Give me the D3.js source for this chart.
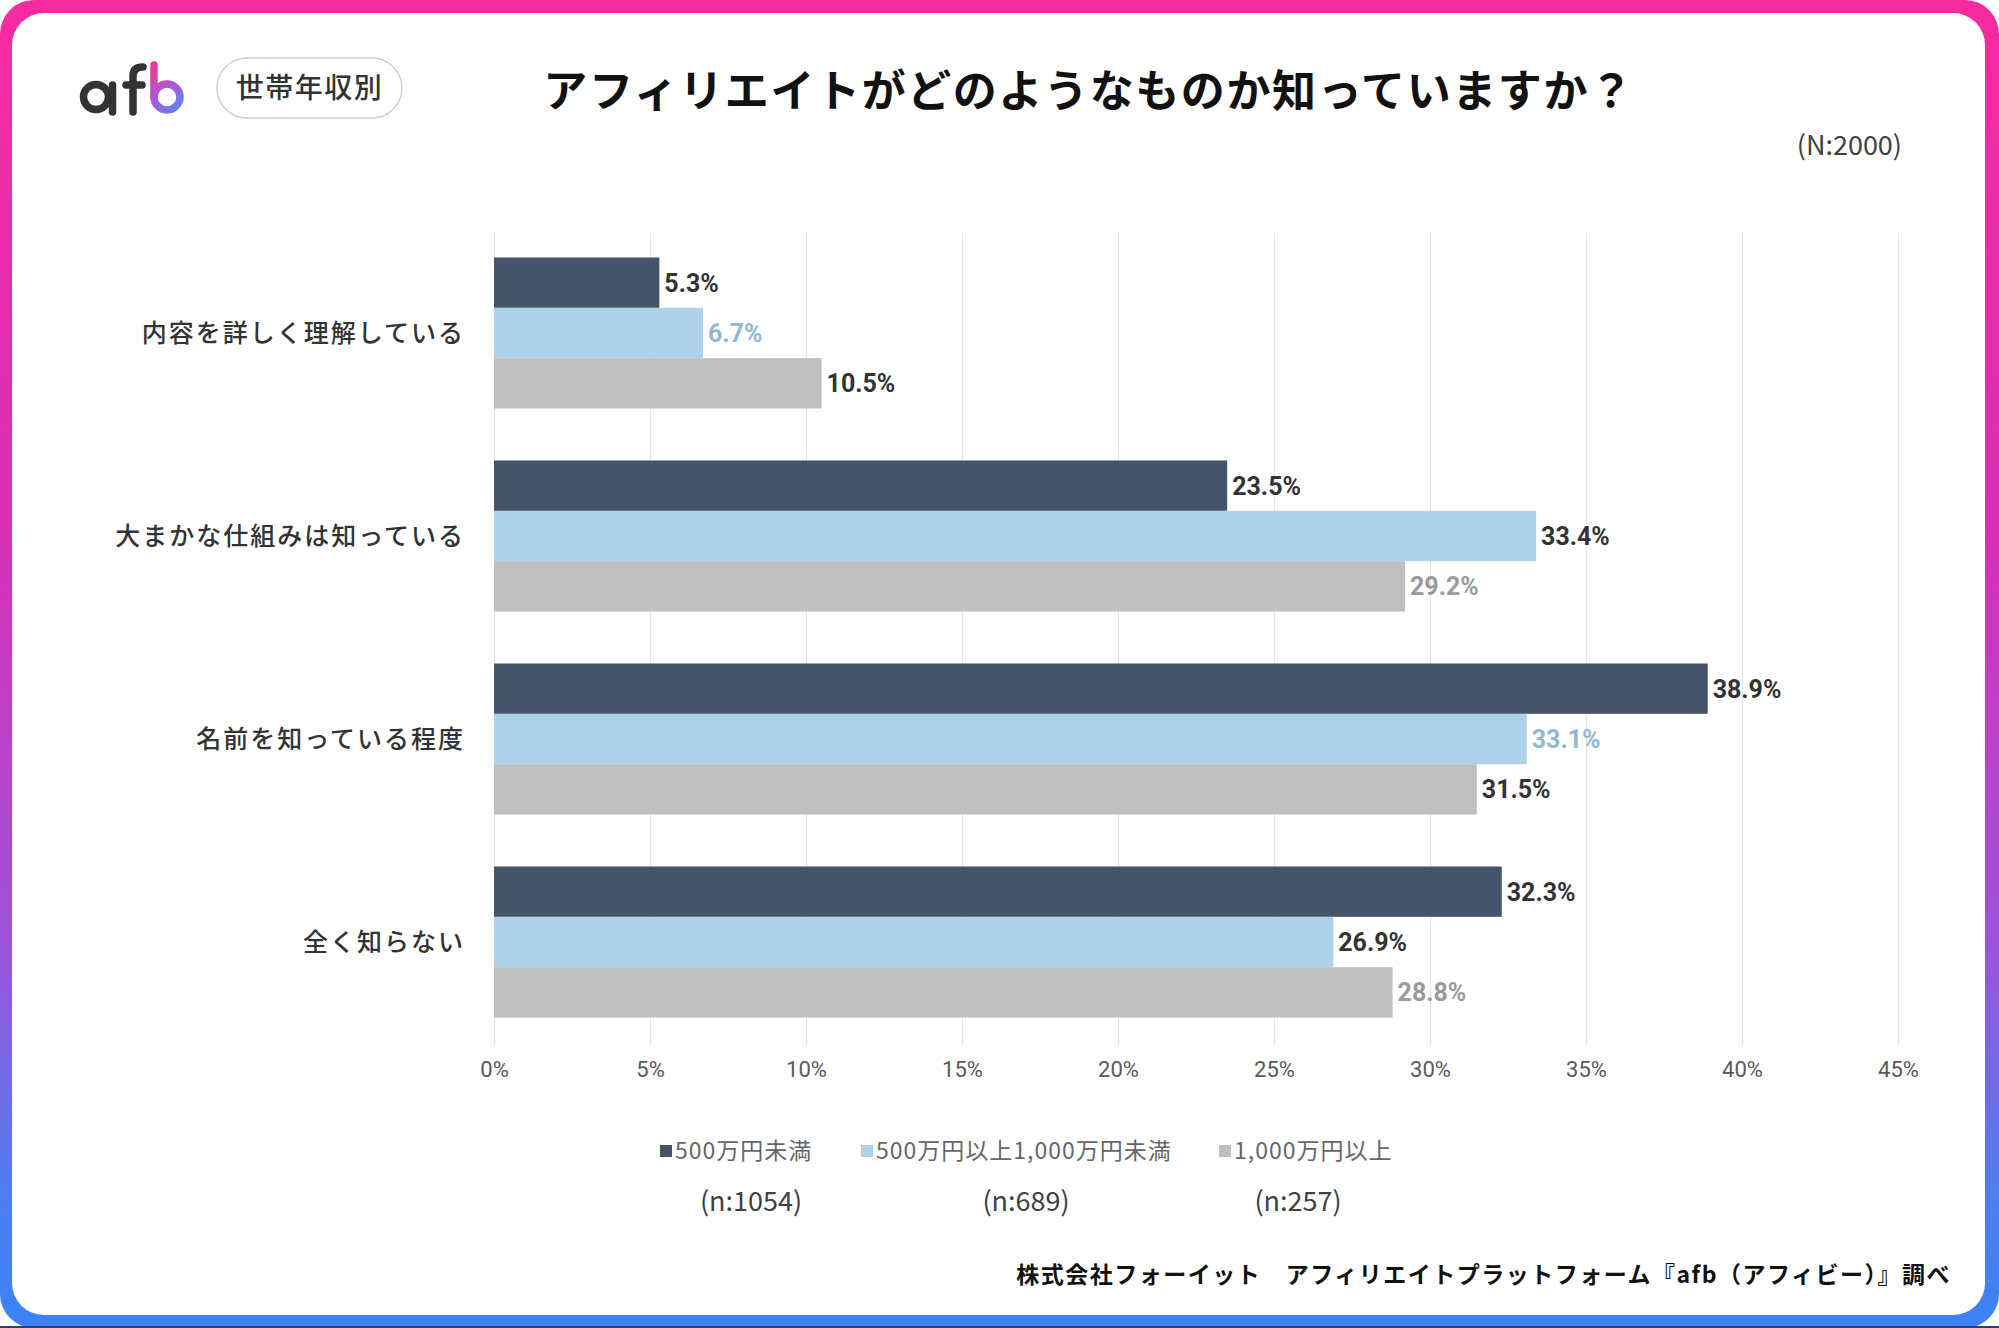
<!DOCTYPE html>
<html>
<head>
<meta charset="utf-8">
<script src="https://cdn.jsdelivr.net/npm/d3@7"></script>
<style>
    body { margin: 0; background: #fff; }
    svg { display: block; }
</style>
</head>
<body>
<script>
const w = 1999;
const h = 1328;

// data
const categories = ["内容を詳しく理解している", "大まかな仕組みは知っている", "名前を知っている程度", "全く知らない"];
const seriesNames = ["500万円未満", "500万円以上1,000万円未満", "1,000万円以上"];
const sampleSizes = ["(n:1054)", "(n:689)", "(n:257)"];
const under500 = [5.3, 23.5, 38.9, 32.3];
const from500to1000 = [6.7, 33.4, 33.1, 26.9];
const over1000 = [10.5, 29.2, 31.5, 28.8];
const xTicks = [0, 5, 10, 15, 20, 25, 30, 35, 40, 45];

const title = "アフィリエイトがどのようなものか知っていますか？";
const subtitle = "(N:2000)";
const tag = "世帯年収別";
const source = "株式会社フォーイット　アフィリエイトプラットフォーム『afb（アフィビー）』調べ";

// styles
const barColors = ["#44546a", "#aed2ea", "#bfbfbf"];
const dark = "#333333";
// value label colours per series / category (the original mixes them)
const labelColors = [
    [dark, dark, dark, dark],
    ["#8fb8d6", dark, "#8fb8d6", dark],
    [dark, "#9a9a9a", dark, "#9a9a9a"]
];
const jp = "'Noto Sans CJK JP', 'Noto Sans', sans-serif";
const narrow = "'Liberation Sans Narrow', 'Roboto', sans-serif";

const rows = categories.map((c, i) => ({
    cat: c,
    values: [under500[i], from500to1000[i], over1000[i]]
}));

const svg = d3.select("body")
    .append("svg")
    .attr("width", w)
    .attr("height", h)
    ;

const defs = svg.append("defs");
const frameGrad = defs.append("linearGradient")
    .attr("id", "frame")
    .attr("x1", 0).attr("y1", 0).attr("x2", 0).attr("y2", 1)
    ;
[[0, "#f72aa0"], [0.4, "#d82fb6"], [0.72, "#9a55da"], [0.9, "#4f7ff0"], [1, "#3b82f6"]]
    .forEach(s => frameGrad.append("stop").attr("offset", s[0]).attr("stop-color", s[1]));

const logoGrad = defs.append("linearGradient")
    .attr("id", "logo")
    .attr("gradientUnits", "userSpaceOnUse")
    .attr("x1", 150).attr("y1", 70).attr("x2", 184).attr("y2", 110)
    ;
logoGrad.append("stop").attr("offset", 0).attr("stop-color", "#ec3b96");
logoGrad.append("stop").attr("offset", 0.5).attr("stop-color", "#a95ad8");
logoGrad.append("stop").attr("offset", 1).attr("stop-color", "#4c8df2");

// frame
svg.append("rect")
    .attr("width", w).attr("height", h)
    .attr("rx", 34)
    .attr("fill", "url(#frame)")
    ;
svg.append("rect")
    .attr("x", 12).attr("y", 13)
    .attr("width", 1973).attr("height", 1302)
    .attr("rx", 32)
    .attr("fill", "#fff")
    ;
svg.append("rect")
    .attr("x", 0).attr("y", h - 2)
    .attr("width", w).attr("height", 2)
    .attr("fill", "#2b3f73")
    ;

// logo "afb"
const logo = svg.append("g")
    .attr("fill", "none")
    .attr("stroke-width", 7.5)
    .attr("stroke-linecap", "round")
    ;
logo.append("circle").attr("cx", 96).attr("cy", 97).attr("r", 12.5).attr("stroke", "#333");
logo.append("path").attr("d", "M112.5,85 L112.5,112").attr("stroke", "#333");
logo.append("path").attr("d", "M133,112 L133,76 Q133,67 143,67").attr("stroke", "#333");
logo.append("path").attr("d", "M126,85 L142,85").attr("stroke", "#333");
logo.append("path").attr("d", "M154,65 L154,97").attr("stroke", "url(#logo)");
logo.append("circle").attr("cx", 167).attr("cy", 97).attr("r", 13).attr("stroke", "url(#logo)");

// tag pill
svg.append("rect")
    .attr("x", 217).attr("y", 58)
    .attr("width", 185).attr("height", 60)
    .attr("rx", 30)
    .attr("fill", "#fff")
    .attr("stroke", "#cfcfcf")
    .attr("stroke-width", 1.5)
    ;
svg.append("text")
    .attr("x", 309.5).attr("y", 98)
    .attr("text-anchor", "middle")
    .attr("font-family", jp)
    .attr("font-weight", 500)
    .attr("font-size", 28)
    .attr("letter-spacing", 1.5)
    .attr("fill", "#333")
    .text(tag)
    ;

// title
svg.append("text")
    .attr("x", 1089).attr("y", 107)
    .attr("text-anchor", "middle")
    .attr("font-family", jp)
    .attr("font-weight", 700)
    .attr("font-size", 44)
    .attr("letter-spacing", 1.6)
    .attr("fill", "#111")
    .text(title)
    ;

svg.append("text")
    .attr("x", 1902).attr("y", 155)
    .attr("text-anchor", "end")
    .attr("font-family", jp)
    .attr("font-size", 27)
    .attr("fill", "#404040")
    .text(subtitle)
    ;

// scales
const xScale = d3.scaleLinear()
    .domain([0, 45])
    .range([494, 1898])
    ;

const yScale = d3.scaleBand()
    .domain(categories)
    .range([231.5, 1043.5])
    .paddingInner(0.256)
    .paddingOuter(0.128)
    ;

const ySub = d3.scaleBand()
    .domain(d3.range(seriesNames.length))
    .range([0, yScale.bandwidth()])
    ;

// gridlines + tick labels
const xAxis = d3.axisBottom(xScale)
    .tickValues(xTicks)
    .tickSize(-(1045 - 233))
    .tickPadding(16)
    .tickFormat(d => d + "%")
    ;

const gx = svg.append("g")
    .attr("transform", "translate(0, 1045)")
    .call(xAxis)
    ;
gx.select(".domain").remove();
gx.selectAll(".tick line")
    .attr("stroke", "#e4e4e4")
    .attr("stroke-width", 1.2)
    ;
gx.selectAll(".tick text")
    .attr("font-family", narrow)
    .attr("font-size", 22)
    .attr("fill", "#595959")
    ;

// category labels
svg.append("g")
    .selectAll("text")
    .data(categories)
    .enter()
    .append("text")
    .attr("x", 465)
    .attr("y", d => yScale(d) + yScale.bandwidth() / 2)
    .attr("dy", "0.36em")
    .attr("text-anchor", "end")
    .attr("font-family", jp)
    .attr("font-weight", 500)
    .attr("font-size", 25)
    .attr("letter-spacing", 2)
    .attr("fill", dark)
    .text(d => d)
    ;

// bars
const groups = svg.append("g")
    .selectAll("g")
    .data(rows)
    .enter()
    .append("g")
    .attr("transform", d => "translate(0, " + yScale(d.cat) + ")")
    ;

groups.selectAll("rect")
    .data(d => d.values)
    .enter()
    .append("rect")
    .attr("x", xScale(0))
    .attr("y", (d, i) => ySub(i))
    .attr("width", d => xScale(d) - xScale(0))
    .attr("height", ySub.bandwidth())
    .attr("fill", (d, i) => barColors[i])
    ;

groups.each(function(row, ci) {
    d3.select(this).selectAll("text")
        .data(row.values)
        .enter()
        .append("text")
        .attr("x", d => xScale(d) + 5)
        .attr("y", (d, i) => ySub(i) + ySub.bandwidth() / 2)
        .attr("dy", "0.36em")
        .attr("font-family", narrow)
        .attr("font-weight", 700)
        .attr("font-size", 25)
        .attr("fill", (d, i) => labelColors[i][ci])
        .text(d => d.toFixed(1) + "%")
        ;
});

// legend
const legendX = [660, 861, 1219];
const sampleX = [751, 1026, 1298];

const legend = svg.append("g")
    .selectAll("g")
    .data(seriesNames)
    .enter()
    .append("g")
    .attr("transform", (d, i) => "translate(" + legendX[i] + ", 1151)")
    ;
legend.append("rect")
    .attr("x", 0).attr("y", -6)
    .attr("width", 12).attr("height", 12)
    .attr("fill", (d, i) => barColors[i])
    ;
legend.append("text")
    .attr("x", 15)
    .attr("dy", "0.36em")
    .attr("font-family", jp)
    .attr("font-size", 23)
    .attr("letter-spacing", 1)
    .attr("fill", "#666")
    .text(d => d)
    ;

svg.append("g")
    .selectAll("text")
    .data(sampleSizes)
    .enter()
    .append("text")
    .attr("x", (d, i) => sampleX[i])
    .attr("y", 1201)
    .attr("dy", "0.36em")
    .attr("text-anchor", "middle")
    .attr("font-family", jp)
    .attr("font-size", 27)
    .attr("fill", "#404040")
    .text(d => d)
    ;

// source
svg.append("text")
    .attr("x", 1951).attr("y", 1283)
    .attr("text-anchor", "end")
    .attr("font-family", jp)
    .attr("font-weight", 700)
    .attr("font-size", 23)
    .attr("letter-spacing", 1.5)
    .attr("fill", "#111")
    .text(source)
    ;
</script>
</body>
</html>
